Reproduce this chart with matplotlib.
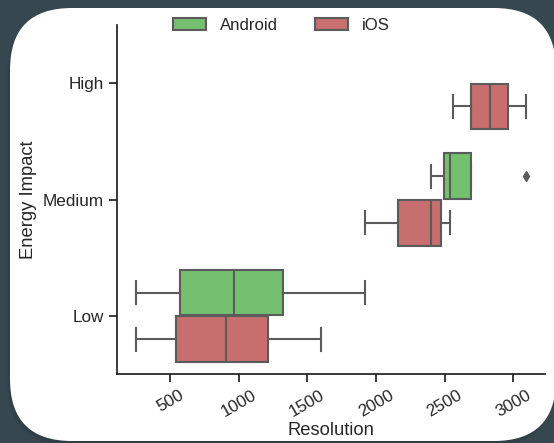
import colorsys
import matplotlib
matplotlib.use("Agg")
import matplotlib.pyplot as plt
from matplotlib.patches import FancyBboxPatch, Patch
import matplotlib.colors as mcolors

# ---- data -------------------------------------------------------------
categories = ["High", "Medium", "Low"]
platforms = ["Android", "iOS"]

# five-number summaries: whisker low, Q1, median, Q3, whisker high
android_stats = {
    "Medium": [2401, 2498, 2540, 2693, 2693],
    "Low": [256, 573, 963, 1324, 1921],
}
ios_stats = {
    "High": [2557, 2693, 2827, 2961, 3088],
    "Medium": [1921, 2157, 2401, 2469, 2535],
    "Low": [256, 544, 907, 1214, 1599],
}
android_fliers = {"Medium": [3088]}
ios_fliers = {}

x_ticks = [500, 1000, 1500, 2000, 2500, 3000]

# ---- style ------------------------------------------------------------
plt.rcParams["font.family"] = ["Liberation Sans", "DejaVu Sans"]


def desaturate(color, prop=0.75):
    r, g, b = mcolors.to_rgb(color)
    h, l, s = colorsys.rgb_to_hls(r, g, b)
    return colorsys.hls_to_rgb(h, l, s * prop)


base_colors = {"Android": "#6ACC64", "iOS": "#D65F5F"}
colors = {k: desaturate(v) for k, v in base_colors.items()}
line_gray = "#5b5b5b"
bg = "#37474F"

W, H = 554, 443
fig = plt.figure(figsize=(W / 100, H / 100), dpi=100, facecolor=bg)

# card behind the chart
card_ax = fig.add_axes([0, 0, 1, 1], zorder=0)
card_ax.set_xlim(0, W)
card_ax.set_ylim(H, 0)
card_ax.axis("off")
for i, a in enumerate([0.10, 0.08, 0.06]):
    card_ax.add_patch(FancyBboxPatch((10 - 1 - i, 8 + 2 + i), 546, 434,
                                     boxstyle="round,pad=0,rounding_size=62",
                                     facecolor="#1e2a30", edgecolor="none",
                                     alpha=a))
card_ax.add_patch(FancyBboxPatch((10, 8), 546, 433,
                                 boxstyle="round,pad=0,rounding_size=62",
                                 facecolor="white", edgecolor="none"))

ax = fig.add_axes([117 / W, 1 - 374 / H, (545 - 117) / W, (374 - 25) / H],
                  zorder=1)
ax.patch.set_alpha(0)

box_width = 0.8 / len(platforms) * 0.98
offsets = {"Android": -0.2, "iOS": 0.2}
series = {"Android": (android_stats, android_fliers),
          "iOS": (ios_stats, ios_fliers)}

for plat in platforms:
    stats_d, fliers_d = series[plat]
    bxp_stats, positions = [], []
    for ci, cat in enumerate(categories):
        if cat not in stats_d:
            continue
        lo, q1, med, q3, hi = stats_d[cat]
        bxp_stats.append(dict(whislo=lo, q1=q1, med=med, q3=q3, whishi=hi,
                              fliers=fliers_d.get(cat, [])))
        positions.append(ci + offsets[plat])
    ax.bxp(bxp_stats, positions=positions, widths=box_width, vert=False,
           patch_artist=True, manage_ticks=False,
           boxprops=dict(facecolor=colors[plat], edgecolor=line_gray,
                         linewidth=1.5),
           medianprops=dict(color=line_gray, linewidth=1.5),
           whiskerprops=dict(color=line_gray, linewidth=1.5),
           capprops=dict(color=line_gray, linewidth=1.5),
           flierprops=dict(marker="d", markerfacecolor=line_gray,
                           markeredgecolor=line_gray, markersize=5))

ax.set_ylim(len(categories) - 0.5, -0.5)
ax.set_yticks(range(len(categories)))
ax.set_yticklabels(categories)
ax.margins(x=0.05)
ax.set_xticks(x_ticks)
ax.set_xticklabels([str(t) for t in x_ticks], rotation=30)

for side in ("top", "right"):
    ax.spines[side].set_visible(False)
for side in ("left", "bottom"):
    ax.spines[side].set_linewidth(1.25)
    ax.spines[side].set_color("#222222")
ax.tick_params(axis="both", length=6, width=1.25, color="#222222",
               labelsize=12.3, labelcolor="#262626")
ax.set_xlabel("Resolution", fontsize=13.2, color="#262626", labelpad=2)
ax.set_ylabel("Energy Impact", fontsize=13.2, color="#262626")

handles = [Patch(facecolor=colors[p], edgecolor=line_gray, linewidth=1.5,
                 label=p) for p in platforms]
fig.legend(handles=handles, loc="upper center", ncol=2, frameon=False,
           bbox_to_anchor=(281 / W, 1 - 11 / H), fontsize=12.1,
           columnspacing=2.2, handletextpad=0.8, borderaxespad=0,
           labelcolor="#262626")

fig.savefig("out.png", dpi=100, facecolor=bg)
